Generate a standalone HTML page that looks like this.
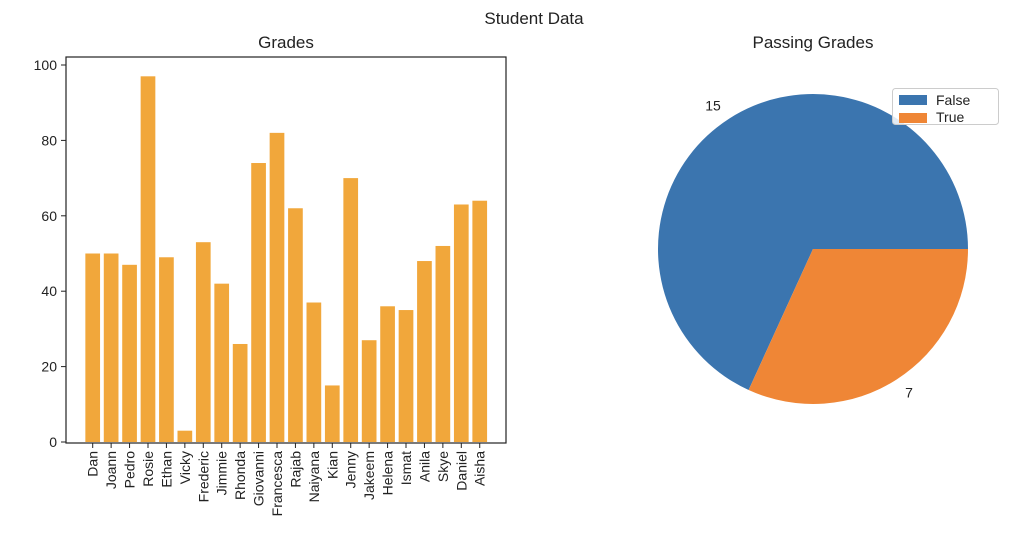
<!DOCTYPE html>
<html><head><meta charset="utf-8"><style>
body{margin:0;background:#fff;}
svg{display:block;font-family:"Liberation Sans","DejaVu Sans",sans-serif;}
</style></head><body>
<svg id="chart" width="1024" height="552" viewBox="0 0 1024 552">
<text x="534" y="24" font-size="17" text-anchor="middle" fill="#222">Student Data</text>
<text x="286" y="48" font-size="17" text-anchor="middle" fill="#222">Grades</text>
<text x="813" y="48" font-size="17" text-anchor="middle" fill="#222">Passing Grades</text>
<g id="bars"></g>
<rect x="66" y="57" width="440" height="386" fill="none" stroke="#222" stroke-width="1.2"/>
<g id="yaxis"></g><g id="xaxis"></g>
<g id="pie"></g>
<g>
<rect x="892.5" y="88.5" width="106" height="36" rx="3" fill="#fff" fill-opacity="0.85" stroke="#ccc"/>
<rect x="899" y="95" width="28" height="10" fill="#3b75af"/>
<text x="936" y="105" font-size="14" fill="#222">False</text>
<rect x="899" y="104" width="28" height="0" fill="none"/>
<rect x="899" y="101" width="0" height="0"/>
<rect x="899" y="102" width="0" height="0"/>
<rect x="899" y="103" width="0" height="0"/>
<rect x="899" y="102" width="0" height="0"/>
<rect x="899" y="102" width="0" height="0"/>
<rect x="899" y="102" width="0" height="0"/>
<rect x="899" y="102" width="0" height="0"/>
<rect x="899" y="102" width="0" height="0"/>
<rect x="899" y="102" width="0" height="0"/>
<rect x="899" y="113" width="28" height="10" fill="#ef8636"/>
<text x="936" y="122" font-size="14" fill="#222">True</text>
</g>
</svg>
<script>
const names=["Dan","Joann","Pedro","Rosie","Ethan","Vicky","Frederic","Jimmie","Rhonda","Giovanni","Francesca","Rajab","Naiyana","Kian","Jenny","Jakeem","Helena","Ismat","Anila","Skye","Daniel","Aisha"];
const grades=[50,50,47,97,49,3,53,42,26,74,82,62,37,15,70,27,36,35,48,52,63,64];
const yTicks=[0,20,40,60,80,100];
const pieLabels=["False","True"];
const pieValues=[15,7];
const NS="http://www.w3.org/2000/svg";
function mk(t,a,p){const e=document.createElementNS(NS,t);for(const k in a)e.setAttribute(k,a[k]);p.appendChild(e);return e;}
const x0=92.7,step=18.43,bw=14.7;
const X=i=>x0+i*step;
const Y=v=>442-v*3.77;
const bars=document.getElementById('bars'),ya=document.getElementById('yaxis'),xa=document.getElementById('xaxis');
grades.forEach((v,i)=>{
 const r=mk('rect',{x:X(i)-bw/2,y:Y(v),width:bw,height:Y(0)-Y(v),fill:'#f1a73b'},bars);
 
 
 mk('line',{x1:X(i),x2:X(i),y1:443,y2:448,stroke:'#222'},xa);
 const t=mk('text',{x:0,y:0,'font-size':14,fill:'#222','text-anchor':'end',transform:`translate(${X(i)+5},451) rotate(-90)`},xa);
 t.textContent=names[i];
 
 
});
yTicks.forEach(v=>{
 mk('line',{x1:61,x2:66,y1:Y(v),y2:Y(v),stroke:'#222'},ya);
 const t=mk('text',{x:57,y:Y(v)+5,'font-size':14,fill:'#222','text-anchor':'end'},ya);
 t.textContent=v;
 
 
});
const pie=document.getElementById('pie'),cx=813,cy=249,R=155,cols=['#3b75af','#ef8636'];
const tot=pieValues.reduce((a,b)=>a+b,0);let a0=0;
pieValues.forEach((v,i)=>{
 const a1=a0+v/tot*2*Math.PI;
 const p1=[cx+R*Math.cos(a0),cy-R*Math.sin(a0)],p2=[cx+R*Math.cos(a1),cy-R*Math.sin(a1)];
 const large=(a1-a0)>Math.PI?1:0;
 const s=mk('path',{d:`M${cx},${cy} L${p1[0]},${p1[1]} A${R},${R} 0 ${large} 0 ${p2[0]},${p2[1]} Z`,fill:cols[i]},pie);
 
 
 const am=(a0+a1)/2;
 const t=mk('text',{x:cx+R*1.1*Math.cos(am),y:cy-R*1.1*Math.sin(am)+5,'font-size':14,fill:'#222','text-anchor':Math.cos(am)<0?'end':'start'},pie);
 t.textContent=v;
 
 
 a0=a1;
});
</script>
</body></html>
